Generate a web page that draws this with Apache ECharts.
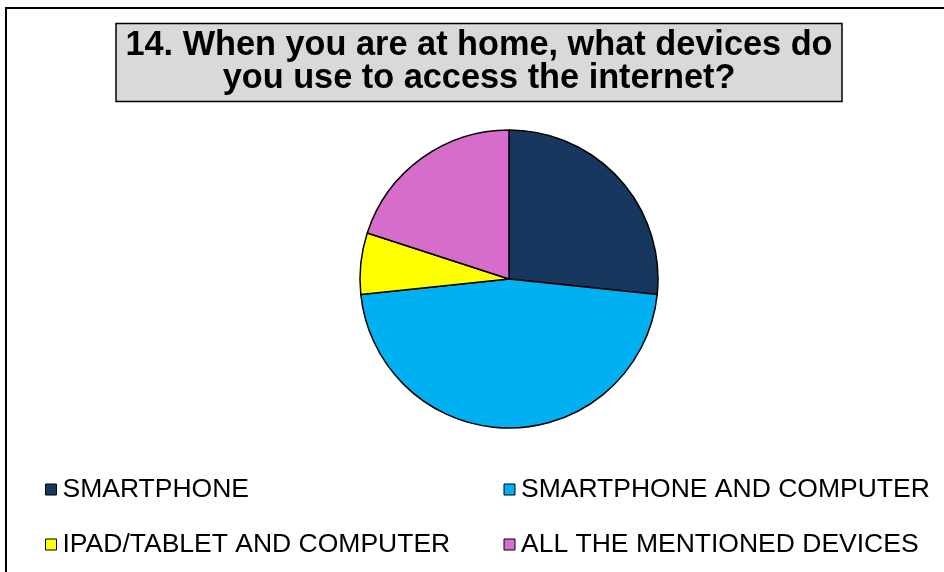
<!DOCTYPE html>
<html>
<head>
<meta charset="utf-8">
<script src="https://cdn.jsdelivr.net/npm/echarts@6/dist/echarts.min.js"></script>
<style>
  html, body { margin: 0; padding: 0; background: #fff; }
  #chart { width: 944px; height: 572px; }
</style>
</head>
<body>
<div id="chart"></div>
<script>
// Survey question 14: devices used at home to go online
const titleText = '14. When you are at home, what devices do\nyou use to access the internet?';
const categories = [
  'SMARTPHONE',
  'SMARTPHONE AND COMPUTER',
  'IPAD/TABLET AND COMPUTER',
  'ALL THE MENTIONED DEVICES'
];
const responses = [8, 14, 2, 6];
const sliceColors = ['#17375e', '#00b0f0', '#ffff00', '#d76dcb'];

const font = '"Liberation Sans", Arial, sans-serif';

const chart = echarts.init(document.getElementById('chart'), null, { renderer: 'canvas' });

// two columns, two rows of legend entries
const legendSpots = [
  { left: 45, top: 476 },
  { left: 503.5, top: 476 },
  { left: 45, top: 531 },
  { left: 503.5, top: 531 }
];

chart.setOption({
  animation: false,
  backgroundColor: '#ffffff',
  title: {
    text: titleText,
    left: 469,
    top: 23.5,
    textAlign: 'center',
    padding: [6, 10, 6, 10],
    backgroundColor: '#d9d9d9',
    borderColor: '#000',
    borderWidth: 1.5,
    textStyle: {
      fontFamily: font,
      fontWeight: 'bold',
      fontSize: 34.3,
      lineHeight: 33,
      color: '#000'
    }
  },
  graphic: [{
    type: 'rect',
    silent: true,
    z: -10,
    shape: { x: 6, y: 8, width: 1000, height: 700 },
    style: { fill: 'none', stroke: '#000', lineWidth: 2 }
  }],
  legend: categories.map((name, i) => ({
    data: [name],
    left: legendSpots[i].left,
    top: legendSpots[i].top,
    padding: 0,
    icon: 'rect',
    itemWidth: 11,
    itemHeight: 11,
    itemGap: 0,
    selectedMode: false,
    itemStyle: { borderColor: '#000', borderWidth: 1 },
    textStyle: { fontFamily: font, fontSize: 26.5, lineHeight: 26, color: '#000', padding: [0, 0, 0, 1] }
  })),
  series: [{
    type: 'pie',
    center: [509, 279],
    radius: 149,
    startAngle: 90,
    clockwise: true,
    label: { show: false },
    labelLine: { show: false },
    emphasis: { disabled: true },
    itemStyle: { borderColor: '#000', borderWidth: 1.5 },
    data: categories.map((name, i) => ({
      name,
      value: responses[i],
      itemStyle: { color: sliceColors[i] }
    }))
  }]
});
</script>
</body>
</html>
